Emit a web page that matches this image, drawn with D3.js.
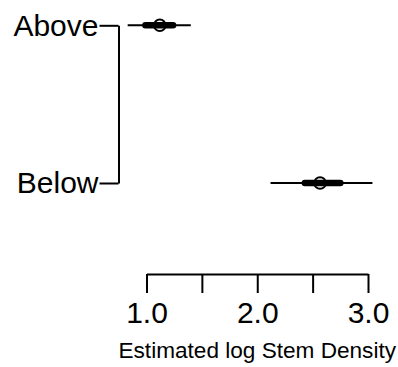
<!DOCTYPE html>
<html>
<head>
<meta charset="utf-8">
<script src="https://cdn.jsdelivr.net/npm/d3@7"></script>
<style>
  body { margin: 0; background: #fff; }
  svg { display: block; font-family: 'Liberation Sans', Arial, sans-serif; }
</style>
</head>
<body>
<svg width="398" height="367"></svg>
<script>
const categories = ['Above', 'Below'];
const means = [1.12, 2.567];
const lower50 = [0.99, 2.43];
const upper50 = [1.24, 2.75];
const lower95 = [0.83, 2.12];
const upper95 = [1.40, 3.04];
const tickValues = [1, 1.5, 2, 2.5, 3];
const tickLabels = ['1.0', '', '2.0', '', '3.0'];
const axisTitle = 'Estimated log Stem Density';

const rows = categories.map((c, i) => ({
  name: c, mean: means[i],
  lo50: lower50[i], hi50: upper50[i],
  lo95: lower95[i], hi95: upper95[i]
}));

const svg = d3.select('svg');

const xScale = d3.scaleLinear().domain([1, 3]).range([146.5, 368]);
const yScale = d3.scalePoint().domain(categories).range([25.3, 183]);

// bracket on the left, with the group names
const leftAxis = d3.axisLeft(yScale).tickSize(19).tickSizeOuter(0).tickPadding(1);
const gLeft = svg.append('g')
  .attr('transform', 'translate(118.5, 0)')
  .call(leftAxis);
gLeft.select('.domain').attr('stroke', '#000').attr('stroke-width', 2);
gLeft.selectAll('.tick line').attr('stroke', '#000').attr('stroke-width', 2);
gLeft.selectAll('.tick text')
  .attr('fill', '#000')
  .style('font-size', '30px')
  .attr('dy', '0.33em');

// 95% intervals
svg.selectAll('line.ci95')
  .data(rows)
  .enter()
  .append('line')
    .attr('class', 'ci95')
    .attr('x1', (d) => xScale(d.lo95))
    .attr('x2', (d) => xScale(d.hi95))
    .attr('y1', (d) => yScale(d.name))
    .attr('y2', (d) => yScale(d.name))
    .attr('stroke', '#000')
    .attr('stroke-width', 2);

// 50% intervals
svg.selectAll('line.ci50')
  .data(rows)
  .enter()
  .append('line')
    .attr('class', 'ci50')
    .attr('x1', (d) => xScale(d.lo50))
    .attr('x2', (d) => xScale(d.hi50))
    .attr('y1', (d) => yScale(d.name))
    .attr('y2', (d) => yScale(d.name))
    .attr('stroke', '#000')
    .attr('stroke-width', 6.5)
    .attr('stroke-linecap', 'round');

// estimate
svg.selectAll('circle')
  .data(rows)
  .enter()
  .append('circle')
    .attr('cx', (d) => xScale(d.mean))
    .attr('cy', (d) => yScale(d.name))
    .attr('r', 5.8)
    .attr('fill', 'none')
    .attr('stroke', '#000')
    .attr('stroke-width', 2);

// bottom axis
const bottomAxis = d3.axisBottom(xScale)
  .tickValues(tickValues)
  .tickFormat((d, i) => tickLabels[i])
  .tickSize(19)
  .tickSizeOuter(0);

const gBottom = svg.append('g')
  .attr('transform', 'translate(0, 274)')
  .call(bottomAxis);
gBottom.select('.domain').attr('stroke', '#000').attr('stroke-width', 2);
gBottom.selectAll('.tick line').attr('stroke', '#000').attr('stroke-width', 2);
gBottom.selectAll('.tick text')
  .attr('fill', '#000')
  .attr('y', 49)
  .attr('dy', 0)
  .style('font-size', '30px');

svg.append('text')
  .attr('x', (xScale.range()[0] + xScale.range()[1]) / 2)
  .attr('y', 358)
  .attr('text-anchor', 'middle')
  .style('font-size', '22.6px')
  .text(axisTitle);
</script>
</body>
</html>
